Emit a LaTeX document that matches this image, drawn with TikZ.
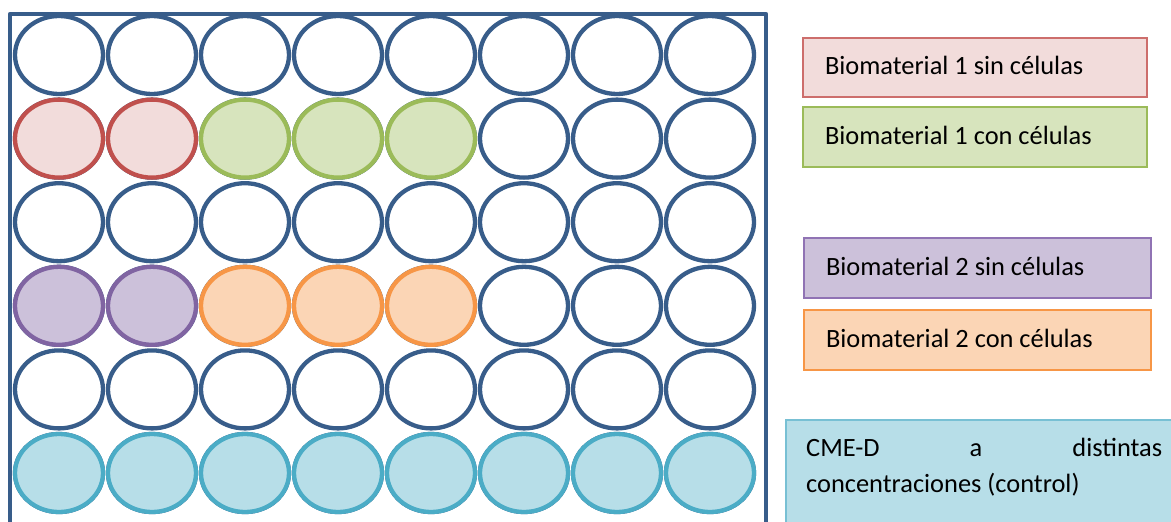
\documentclass[tikz,border=0pt]{standalone}
\usepackage{fontspec}
\setmainfont{Carlito}
\usetikzlibrary{shapes.geometric}
\definecolor{plate}{HTML}{385D8A}
\definecolor{redL}{HTML}{C0504D}\definecolor{redF}{HTML}{F2DCDB}
\definecolor{grnL}{HTML}{9BBB59}\definecolor{grnF}{HTML}{D7E4BD}
\definecolor{purL}{HTML}{8064A2}\definecolor{purF}{HTML}{CCC1DA}
\definecolor{orgL}{HTML}{F79646}\definecolor{orgF}{HTML}{FBD5B5}
\definecolor{tealL}{HTML}{4BACC6}\definecolor{tealF}{HTML}{B7DEE8}
\definecolor{redB}{HTML}{CD6E6C}\definecolor{purB}{HTML}{9073B4}
\definecolor{tealB}{HTML}{78C0D4}
\newcommand{\legtext}[2]{\makebox[#1][l]{#2}}
\tikzset{
  well/.style={ellipse, minimum width=88pt, minimum height=78pt, inner sep=0pt, line width=4.3pt, draw=plate, fill=white},
  wred/.style={well, draw=redL, fill=redF},
  wgrn/.style={well, draw=grnL, fill=grnF},
  wpur/.style={well, draw=purL, fill=purF},
  worg/.style={well, draw=orgL, fill=orgF},
  wteal/.style={well, draw=tealL, fill=tealF},
  legbox/.style={rectangle, line width=1.3pt, inner xsep=22pt, inner ysep=0pt,
     font=\fontsize{26.4}{32}\selectfont, text height=17pt, text depth=3pt},
}
\begin{document}
\begin{tikzpicture}[x=1pt,y=-1pt]
\useasboundingbox (0,0) rectangle (1171,522);
\clip (0,0) rectangle (1171,522);
% plate
\draw[plate, line width=4.5pt, line join=round] (10,540) -- (10,14) -- (766,14) -- (766,540);
% wells
\foreach \r in {1,...,6}{
  \foreach \c in {1,...,8}{
    \pgfmathsetmacro{\xx}{59+93*(\c-1)}
    \pgfmathsetmacro{\yy}{55+83.6*(\r-1)}
    \node[well] (w-\r-\c) at (\xx,\yy) {};
  }
}
% coloured wells (redrawn on top)
\foreach \c in {1,2}{
  \node[wred] (r-\c) at (w-2-\c) {};
  \node[wpur] (p-\c) at (w-4-\c) {};
}
\foreach \c in {3,4,5}{
  \node[wgrn] (g-\c) at (w-2-\c) {};
  \node[worg] (o-\c) at (w-4-\c) {};
}
\foreach \c in {1,...,8}{
  \node[wteal] (t-\c) at (w-6-\c) {};
}
% legend
\node[legbox, draw=redB, fill=redF, minimum width=344pt, minimum height=59pt] (l1) at (975,67.5) {\legtext{300pt}{Biomaterial 1 sin células}};
\node[legbox, draw=grnL, fill=grnF, minimum width=344pt, minimum height=60pt] (l2) at (975,137) {\legtext{300pt}{Biomaterial 1 con células}};
\node[legbox, draw=purB, fill=purF, minimum width=347pt, minimum height=60pt] (l3) at (977.5,268) {\legtext{303pt}{Biomaterial 2 sin células}};
\node[legbox, draw=orgL, fill=orgF, minimum width=347pt, minimum height=60pt] (l4) at (977.5,340) {\legtext{303pt}{Biomaterial 2 con células}};
\draw[tealB, line width=1.3pt, fill=tealF] (786,540) -- (786,420) -- (1180,420) -- (1180,540) -- cycle;
\node[anchor=base west, inner sep=0pt, font=\fontsize{26.4}{36}\selectfont] (l5) at (806,456)
  {\parbox[t]{356pt}{\makebox[356pt]{CME-D\hfill a\hfill distintas}\\concentraciones (control)}};
\end{tikzpicture}
\end{document}
